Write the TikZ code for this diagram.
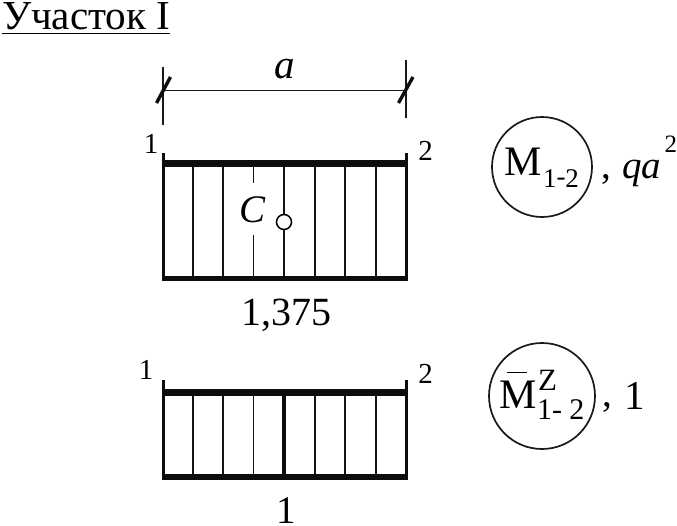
\documentclass[tikz,border=0pt]{standalone}
\usepackage{fontspec}
\setmainfont{Liberation Serif}
\begin{document}
\begin{tikzpicture}[x=1pt,y=-1pt,
  txt/.style={inner sep=0pt,outer sep=0pt,text=black},
  big/.style={txt,font=\fontsize{39}{39}\selectfont},
  bigit/.style={txt,font=\fontsize{39}{39}\selectfont\itshape},
  idx/.style={txt,font=\fontsize{29}{29}\selectfont},
  thin line/.style={line width=1.9pt,black!92},
  wall/.style={line width=3.2pt,black!95},
  topbar/.style={line width=7pt,black!95},
  botbar/.style={line width=5.5pt,black!95},
  dimline/.style={line width=1.5pt,black!90},
  slash/.style={line width=3.4pt,black!95},
  ring/.style={line width=1.7pt,black!90}]
\useasboundingbox (0,0) rectangle (677,525);
% heading
\node[txt,font=\fontsize{41.2}{41.2}\selectfont,anchor=base west] (title) at (2,29.5) {Участок I};
\draw[line width=1.6pt] (2,33.5) -- (170,33.5);
% dimension
\coordinate (dl) at (163,90.5); \coordinate (dr) at (406,90.5);
\draw[dimline] (163,67) -- (163,125);
\draw[dimline] (406,60) -- (406,118);
\draw[dimline] (dl) -- (dr);
\draw[slash] (156.5,103) -- (170.5,77);
\draw[slash] (398.5,103) -- (413,77);
\node[bigit,font=\fontsize{41}{41}\selectfont\itshape,anchor=base] (a) at (285,78) {a};
% upper frame
\foreach \x in {192.7,223,314.7,345,375.6} \draw[thin line] (\x,165) -- (\x,278);
\draw[thin line] (253.5,165) -- (253.5,183);
\draw[thin line] (253.5,235) -- (253.5,278);
\draw[thin line] (284,165) -- (284,278);
\draw[wall] (163.5,153) -- (163.5,281);
\draw[wall] (406.5,153) -- (406.5,281);
\draw[topbar] (162,163.5) -- (408,163.5);
\draw[botbar] (162,278.5) -- (408,278.5);
\node[draw=black,line width=1.5pt,fill=white,circle,minimum size=15pt,inner sep=0pt] (c) at (284,222) {};
\node[bigit,anchor=base] (cl) at (253,222) {C};
\node[idx,anchor=base] (u1) at (151,153) {1};
\node[idx,anchor=base] (u2) at (425.5,160) {2};
\node[big,font=\fontsize{40}{40}\selectfont,anchor=base] (uv) at (286,325.5) {1,375};
% lower frame
\foreach \x in {192.7,223,253.5,314.7,345,375.6} \draw[thin line] (\x,392) -- (\x,477);
\draw[line width=4pt,black!95] (284,392) -- (284,477);
\draw[wall] (163.5,380) -- (163.5,480);
\draw[wall] (406.5,380) -- (406.5,480);
\draw[topbar] (162,392) -- (408,392);
\draw[botbar] (162,477) -- (408,477);
\node[idx,anchor=base] (l1) at (146,379) {1};
\node[idx,anchor=base] (l2) at (425.5,383) {2};
\node[big,anchor=base] (lv) at (286,523) {1};
% upper label
\node[draw,ring,circle,minimum size=100pt,inner sep=0pt] (m1) at (542,167) {};
\node[txt,font=\fontsize{42}{42}\selectfont,anchor=base west] (mt) at (504.5,175) {M};
\node[txt,font=\fontsize{27}{27}\selectfont,anchor=base west] (ms) at (543,187) {1\raisebox{2pt}{-}2};
\node[big,anchor=base west] (mc) at (601,178) {,};
\node[bigit,anchor=base west] (mq) at (622,178) {qa};
\node[txt,font=\fontsize{25}{25}\selectfont,anchor=base west] (mp) at (664.5,152) {2};
% lower label
\node[draw,ring,circle,minimum size=106pt,inner sep=0pt] (m2) at (542,396) {};
\node[txt,font=\fontsize{42}{42}\selectfont,anchor=base west] (nt) at (499,408) {M};
\draw[line width=1.6pt] (507,372.5) -- (527,372.5);
\node[txt,font=\fontsize{31}{31}\selectfont,anchor=base west] (nz) at (538,390) {Z};
\node[txt,font=\fontsize{30}{30}\selectfont,anchor=base west] (ns) at (537,419) {1- 2};
\node[big,anchor=base west] (nc) at (602,406) {,};
\node[txt,font=\fontsize{41}{41}\selectfont,anchor=base west] (nv) at (624,409) {1};
\end{tikzpicture}
\end{document}
